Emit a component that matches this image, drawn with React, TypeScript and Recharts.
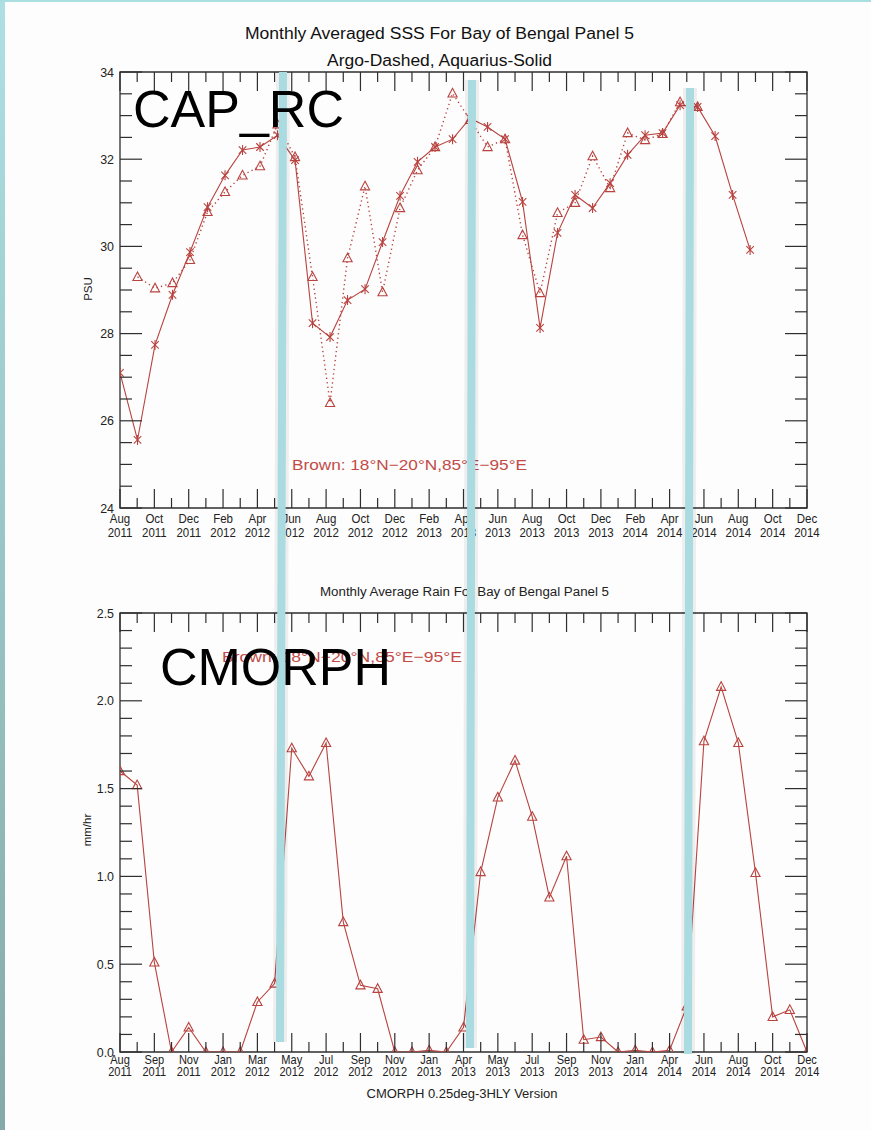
import React from 'react';
import { LineChart, Line, XAxis, YAxis, ReferenceArea } from 'recharts';

// ---------------- DATA ----------------
// Top panel: monthly averaged SSS (PSU), index 0 = Aug 2011
const aquariusSSS = [
  27.10, 25.56, 27.74, 28.89, 29.87, 30.90, 31.63, 32.21, 32.28, 32.55,
  31.98, 28.24, 27.92, 28.77, 29.02, 30.10, 31.16, 31.94, 32.28, 32.46,
  32.94, 32.74, 32.46, 31.02, 28.13, 30.31, 31.18, 30.88, 31.45, 32.10,
  32.55, 32.60, 33.24, 33.20, 32.53, 31.18, 29.92,
];
const argoSSS: (number | null)[] = [
  null, 29.30, 29.04, 29.16, 29.69, 30.79, 31.25, 31.63, 31.84, 32.80,
  32.05, 29.30, 26.41, 29.73, 31.38, 28.95, 30.88, 31.75, 32.28, 33.51,
  32.90, 32.28, 32.46, 30.26, 28.93, 30.77, 31.00, 32.07, 31.34, 32.60,
  32.44, 32.58, 33.31, 33.20,
];
const sssTickLabels = [
  'Aug 2011', 'Oct 2011', 'Dec 2011', 'Feb 2012', 'Apr 2012', 'Jun 2012', 'Aug 2012',
  'Oct 2012', 'Dec 2012', 'Feb 2013', 'Apr 2013', 'Jun 2013', 'Aug 2013', 'Oct 2013',
  'Dec 2013', 'Feb 2014', 'Apr 2014', 'Jun 2014', 'Aug 2014', 'Oct 2014', 'Dec 2014',
];
const sssYTicks = [24, 26, 28, 30, 32, 34];

// Bottom panel: monthly average rain (mm/hr), index 0 = Aug 2011
const cmorphRain = [
  1.60, 1.52, 0.51, 0.00, 0.14, 0.00, 0.00, 0.00, 0.285, 0.39,
  1.73, 1.57, 1.76, 0.74, 0.38, 0.36, 0.00, 0.00, 0.01, 0.00,
  0.14, 1.025, 1.45, 1.66, 1.34, 0.88, 1.115, 0.07, 0.085, 0.00,
  0.01, 0.00, 0.01, 0.26, 1.77, 2.08, 1.76, 1.02, 0.20, 0.24,
  0.00,
];
const rainTickLabels = [
  'Aug 2011', 'Sep 2011', 'Nov 2011', 'Jan 2012', 'Mar 2012', 'May 2012', 'Jul 2012',
  'Sep 2012', 'Nov 2012', 'Jan 2013', 'Apr 2013', 'May 2013', 'Jul 2013', 'Sep 2013',
  'Nov 2013', 'Jan 2014', 'Apr 2014', 'Jun 2014', 'Aug 2014', 'Oct 2014', 'Dec 2014',
];
const rainYTicks = [0.0, 0.5, 1.0, 1.5, 2.0, 2.5];

// ---------------- STYLE / LAYOUT ----------------
const RED = '#b8433f';
const TXT_RED = '#c24b47';
const AX = '#2e2e2e';
const FONT = "'Liberation Sans Narrow', 'Arial Narrow', 'Liberation Sans', Arial, sans-serif";
const BIG_FONT = "'Liberation Sans', Arial, Helvetica, sans-serif";

const W = 871;
const PLOT_W = 687;
const TOP_PLOT_H = 436;
const BOT_PLOT_H = 439;

const SSS_XMAX = 39.25;
const RAIN_XMAX = 40;

const sssData = aquariusSSS.map((v, i) => ({
  m: i,
  aquarius: v,
  argo: i < argoSSS.length ? argoSSS[i] : null,
}));
const rainData = cmorphRain.map((v, i) => ({ m: i, rain: v }));

// minor + major tick positions (major every second one)
const nSss = 2 * (sssTickLabels.length - 1);
const nRain = 2 * (rainTickLabels.length - 1);
const sssXTicks = Array.from({ length: nSss + 1 }, (_, i) => (i * SSS_XMAX) / nSss);
const rainXTicks = Array.from({ length: nRain + 1 }, (_, i) => (i * RAIN_XMAX) / nRain);
const sssYAll = Array.from({ length: (sssYTicks[sssYTicks.length - 1] - sssYTicks[0]) * 2 + 1 }, (_, i) => sssYTicks[0] + i * 0.5);
const rainYAll = Array.from({ length: 26 }, (_, i) => Math.round(i * 10) / 100);

function makeXTick(labels: string[], plotH: number, l1: number, l2: number, fs: number) {
  return (props: any) => {
    const { x, y, index } = props;
    const major = index % 2 === 0;
    const len = major ? 19 : 10;
    const lab = major ? labels[index / 2] : null;
    const parts = lab ? lab.split(' ') : [];
    return (
      <g>
        <line x1={x} y1={y} x2={x} y2={y - len} stroke={AX} strokeWidth={1.2} />
        <line x1={x} y1={y - plotH} x2={x} y2={y - plotH + len} stroke={AX} strokeWidth={1.2} />
        {lab && (
          <text transform={`translate(${x},${y + l1}) scale(0.85,1)`} x={0} y={0} textAnchor="middle" fontSize={fs} fontFamily={FONT} fill="#222">
            {parts[0]}
          </text>
        )}
        {lab && (
          <text transform={`translate(${x},${y + l2}) scale(0.85,1)`} x={0} y={0} textAnchor="middle" fontSize={fs} fontFamily={FONT} fill="#222">
            {parts[1]}
          </text>
        )}
      </g>
    );
  };
}

function makeYTick(majorEvery: number, fmt: (v: number) => string, plotW: number) {
  return (props: any) => {
    const { x, y, index, payload } = props;
    const major = index % majorEvery === 0;
    const len = major ? 22 : 12;
    return (
      <g>
        <line x1={x} y1={y} x2={x + len} y2={y} stroke={AX} strokeWidth={1.2} />
        <line x1={x + plotW} y1={y} x2={x + plotW - len} y2={y} stroke={AX} strokeWidth={1.2} />
        {major && (
          <text transform={`translate(${x - 6},${y + 4.5}) scale(0.92,1)`} x={0} y={0} textAnchor="end" fontSize={13.5} fontFamily={FONT} fill="#222">
            {fmt(payload.value)}
          </text>
        )}
      </g>
    );
  };
}

const Star = (props: any) => {
  const { cx, cy, index, value } = props;
  if (cx == null || cy == null || value == null) return <g key={`s${index}`} />;
  const r = 5;
  const d = r * 0.75;
  return (
    <g key={`s${index}`} stroke={RED} strokeWidth={1.1}>
      <line x1={cx} y1={cy - r} x2={cx} y2={cy + r} />
      <line x1={cx - d} y1={cy - d} x2={cx + d} y2={cy + d} />
      <line x1={cx - d} y1={cy + d} x2={cx + d} y2={cy - d} />
    </g>
  );
};

const Tri = (props: any) => {
  const { cx, cy, index, value } = props;
  if (cx == null || cy == null || value == null) return <g key={`t${index}`} />;
  const pts = `${cx},${cy - 5} ${cx - 4.6},${cy + 3.6} ${cx + 4.6},${cy + 3.6}`;
  return <polygon key={`t${index}`} points={pts} fill="none" stroke={RED} strokeWidth={1.1} />;
};

function Bar({ xt, xb, yt, yb }: { xt: number; xb: number; yt: number; yb: number }) {
  const w = 8;
  return (
    <g>
      <polygon points={`${xt - 3},${yt} ${xt + w + 3},${yt} ${xb + w + 3},${yb} ${xb - 3},${yb}`} fill="rgba(0,0,0,0.06)" />
      <polygon points={`${xt},${yt} ${xt + w},${yt} ${xb + w},${yb} ${xb},${yb}`} fill="#a9dbe0" />
    </g>
  );
}

export default function App() {
  return (
    <div style={{ position: 'absolute', left: 0, top: 0, width: W, height: 1130, background: '#fdfdfd', overflow: 'hidden' }}>
      <div style={{ position: 'absolute', left: 0, top: 0 }}>
        <LineChart width={W} height={560} data={sssData} margin={{ top: 72, right: 64, left: 60, bottom: 0 }}>
          <XAxis
            dataKey="m"
            type="number"
            domain={[0, SSS_XMAX]}
            allowDataOverflow
            ticks={sssXTicks}
            interval={0}
            tickSize={0}
            tickMargin={0}
            tickLine={false}
            axisLine={false}
            height={52}
            tick={makeXTick(sssTickLabels, TOP_PLOT_H, 15, 28.5, 13.5)}
          />
          <YAxis
            type="number"
            domain={[sssYTicks[0], sssYTicks[sssYTicks.length - 1]]}
            allowDataOverflow
            ticks={sssYAll}
            interval={0}
            tickSize={0}
            tickMargin={0}
            tickLine={false}
            axisLine={false}
            width={60}
            tick={makeYTick(4, (v) => String(v), PLOT_W)}
          />
          <ReferenceArea x1={0} x2={SSS_XMAX} y1={24} y2={34} fill="none" stroke={AX} strokeWidth={1.3} ifOverflow="visible" />
          <Line
            dataKey="argo"
            stroke={RED}
            strokeWidth={1.4}
            strokeDasharray="1.3 3.2"
            dot={Tri}
            activeDot={false}
            isAnimationActive={false}
          />
          <Line
            dataKey="aquarius"
            stroke={RED}
            strokeWidth={1.1}
            dot={Star}
            activeDot={false}
            isAnimationActive={false}
          />
        </LineChart>
      </div>

      <div style={{ position: 'absolute', left: 0, top: 570 }}>
        <LineChart width={W} height={560} data={rainData} margin={{ top: 43, right: 64, left: 60, bottom: 0 }}>
          <XAxis
            dataKey="m"
            type="number"
            domain={[0, RAIN_XMAX]}
            allowDataOverflow
            ticks={rainXTicks}
            interval={0}
            tickSize={0}
            tickMargin={0}
            tickLine={false}
            axisLine={false}
            height={78}
            tick={makeXTick(rainTickLabels, BOT_PLOT_H, 11.5, 23.5, 13)}
          />
          <YAxis
            type="number"
            domain={[rainYTicks[0], rainYTicks[rainYTicks.length - 1]]}
            allowDataOverflow
            ticks={rainYAll}
            interval={0}
            tickSize={0}
            tickMargin={0}
            tickLine={false}
            axisLine={false}
            width={60}
            tick={makeYTick(5, (v) => v.toFixed(1), PLOT_W)}
          />
          <ReferenceArea x1={0} x2={RAIN_XMAX} y1={0} y2={2.5} fill="none" stroke={AX} strokeWidth={1.3} ifOverflow="visible" />
          <Line
            dataKey="rain"
            stroke={RED}
            strokeWidth={1.1}
            dot={Tri}
            activeDot={false}
            isAnimationActive={false}
          />
        </LineChart>
      </div>

      <svg width={W} height={1130} style={{ position: 'absolute', left: 0, top: 0, pointerEvents: 'none' }}>
        <defs>
          <linearGradient id="edge" x1="0" y1="0" x2="0" y2="1">
            <stop offset="0" stopColor="#aee0e3" />
            <stop offset="1" stopColor="#85a9a8" />
          </linearGradient>
        </defs>
        <rect x={0} y={0} width={5} height={1130} fill="url(#edge)" />
        <rect x={0} y={0} width={W} height={2} fill="#aadfe2" />

        <text x={439.5} y={39} textAnchor="middle" fontSize={16} fontFamily={FONT} fill="#111" textLength={389} lengthAdjust="spacingAndGlyphs">
          Monthly Averaged SSS For Bay of Bengal Panel  5
        </text>
        <text x={439.5} y={65.5} textAnchor="middle" fontSize={16} fontFamily={FONT} fill="#111" textLength={225} lengthAdjust="spacingAndGlyphs">
          Argo-Dashed, Aquarius-Solid
        </text>
        <text x={0} y={0} transform="translate(92,289) rotate(-90)" textAnchor="middle" fontSize={11.5} fontFamily={FONT} fill="#222">
          PSU
        </text>
        <text x={292} y={470} fontSize={15} fontFamily={FONT} fill={TXT_RED} textLength={235} lengthAdjust="spacingAndGlyphs">
          Brown: 18°N−20°N,85°E−95°E
        </text>

        <text x={320} y={596} fontSize={12} fontFamily={FONT} fill="#222" textLength={289} lengthAdjust="spacingAndGlyphs">
          Monthly Average Rain For Bay of Bengal Panel 5
        </text>
        <text x={0} y={0} transform="translate(91,830) rotate(-90)" textAnchor="middle" fontSize={11.5} fontFamily={FONT} fill="#222">
          mm/hr
        </text>
        <text x={222} y={662} fontSize={15} fontFamily={FONT} fill={TXT_RED} textLength={240} lengthAdjust="spacingAndGlyphs">
          Brown: 18°N−20°N,85°E−95°E
        </text>
        <text x={462} y={1098} textAnchor="middle" fontSize={12.5} fontFamily={FONT} fill="#222" textLength={191} lengthAdjust="spacingAndGlyphs">
          CMORPH 0.25deg-3HLY Version
        </text>

        <Bar xt={279} xb={276} yt={72} yb={1042} />
        <Bar xt={468} xb={466} yt={80} yb={1048} />
        <Bar xt={686} xb={684} yt={88} yb={1054} />

        <text x={133} y={127} fontSize={52} fontFamily={BIG_FONT} fill="#000">CAP_RC</text>
        <text x={160} y={685} fontSize={52} fontFamily={BIG_FONT} fill="#000">CMORPH</text>
      </svg>
    </div>
  );
}
